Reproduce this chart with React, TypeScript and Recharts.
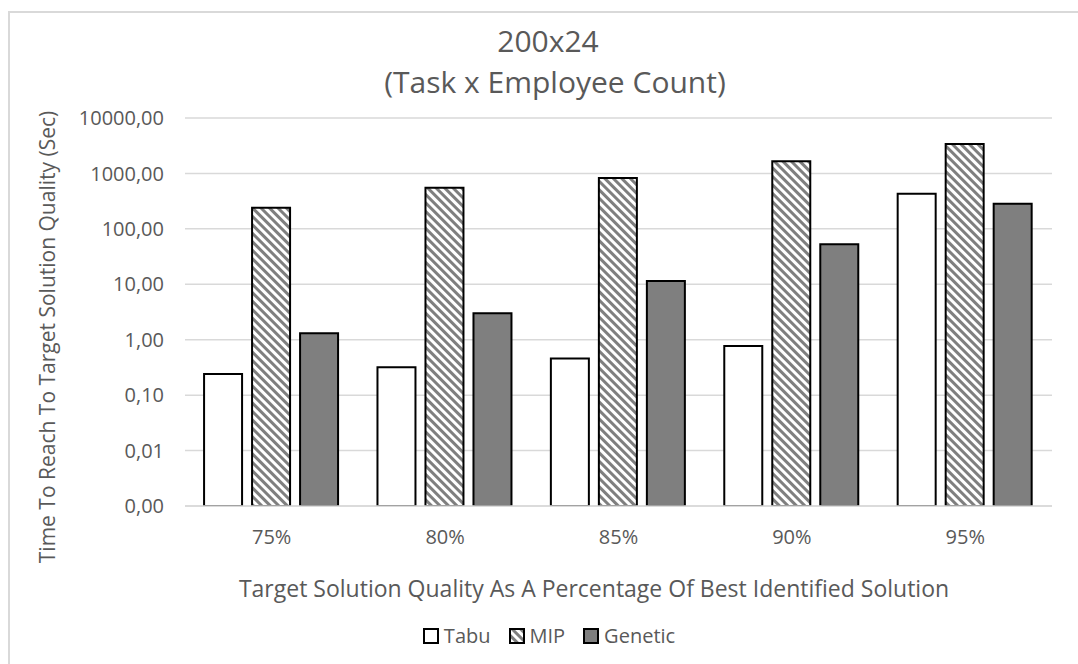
import { Bar, BarChart, CartesianGrid, Legend, XAxis, YAxis } from "recharts"

const categories = ["75%", "80%", "85%", "90%", "95%"]
const tabu = [0.24, 0.32, 0.46, 0.77, 430]
const mip = [240, 550, 830, 1650, 3400]
const genetic = [1.31, 3.0, 11.5, 53, 283]
const yTicks = [0.001, 0.01, 0.1, 1, 10, 100, 1000, 10000]

const data = categories.map((name, i) => ({
  name,
  Tabu: tabu[i],
  MIP: mip[i],
  Genetic: genetic[i],
}))

const series = [
  { key: "Tabu", fill: "#ffffff" },
  { key: "MIP", fill: "url(#mipHatch)" },
  { key: "Genetic", fill: "#7f7f7f" },
]

const FONT = "'Open Sans', 'Noto Sans', sans-serif"
const TEXT = "#595959"
const GRID = "#d9d9d9"

const fmt = (v: number) => v.toFixed(2).replace(".", ",")

function LegendContent() {
  return (
    <div
      style={{
        display: "flex",
        justifyContent: "center",
        alignItems: "center",
        gap: 18,
        fontFamily: FONT,
        fontSize: 20,
        color: TEXT,
        paddingLeft: 20,
      }}
    >
      {series.map((s) => (
        <div key={s.key} style={{ display: "flex", alignItems: "center", gap: 5 }}>
          <svg width={16} height={16}>
            <rect x={1} y={1} width={14} height={14} fill={s.fill} stroke="#000" strokeWidth={2} />
          </svg>
          <span>{s.key}</span>
        </div>
      ))}
    </div>
  )
}

export default function App() {
  return (
    <div style={{ position: "absolute", left: 0, top: 0, width: 1078, height: 664, background: "#fff", overflow: "hidden" }}>
      <BarChart
        width={1078}
        height={664}
        data={data}
        margin={{ top: 118, right: 26, bottom: 128, left: 0 }}
        barCategoryGap="11%"
        barGap={10}
      >
        <defs>
          <pattern id="mipHatch" patternUnits="userSpaceOnUse" width={6} height={6} patternTransform="rotate(-45)">
            <rect x={0} y={0} width={6} height={6} fill="#ffffff" />
            <rect x={0} y={0} width={3} height={6} fill="#7f7f7f" />
          </pattern>
        </defs>
        <CartesianGrid vertical={false} stroke={GRID} strokeWidth={1.5} />
        <XAxis
          dataKey="name"
          axisLine={{ stroke: GRID, strokeWidth: 1.5 }}
          tickLine={false}
          tickMargin={18}
          tick={{ fill: TEXT, fontSize: 20, fontFamily: FONT }}
        />
        <YAxis
          width={185}
          scale="log"
          domain={[0.001, 10000]}
          ticks={yTicks}
          allowDataOverflow
          axisLine={false}
          tickLine={false}
          tickMargin={15}
          tickFormatter={fmt}
          tick={{ fill: TEXT, fontSize: 20, fontFamily: FONT }}
        />
        <Legend
          verticalAlign="middle"
          align="center"
          content={<LegendContent />}
          wrapperStyle={{ top: 622, left: 0, width: 1078 }}
        />
        {series.map((s) => (
          <Bar
            key={s.key}
            dataKey={s.key}
            fill={s.fill}
            stroke="#000"
            strokeWidth={2}
            isAnimationActive={false}
          />
        ))}
      </BarChart>
      <svg
        width={1078}
        height={664}
        style={{ position: "absolute", left: 0, top: 0, pointerEvents: "none" }}
        fontFamily={FONT}
        fill={TEXT}
      >
        <rect x={9} y={12} width={1100} height={700} fill="none" stroke={GRID} strokeWidth={2} />
        <text x={548} y={52} fontSize={30} textAnchor="middle">200x24</text>
        <text x={555} y={93} fontSize={30} textAnchor="middle">(Task x Employee Count)</text>
        <text x={594} y={597} fontSize={23} textAnchor="middle">
          Target Solution Quality As A Percentage Of Best Identified Solution
        </text>
        <text x={55} y={337} fontSize={21} textAnchor="middle" transform="rotate(-90 55 337)">
          Time To Reach To Target Solution Quality (Sec)
        </text>
      </svg>
    </div>
  )
}
